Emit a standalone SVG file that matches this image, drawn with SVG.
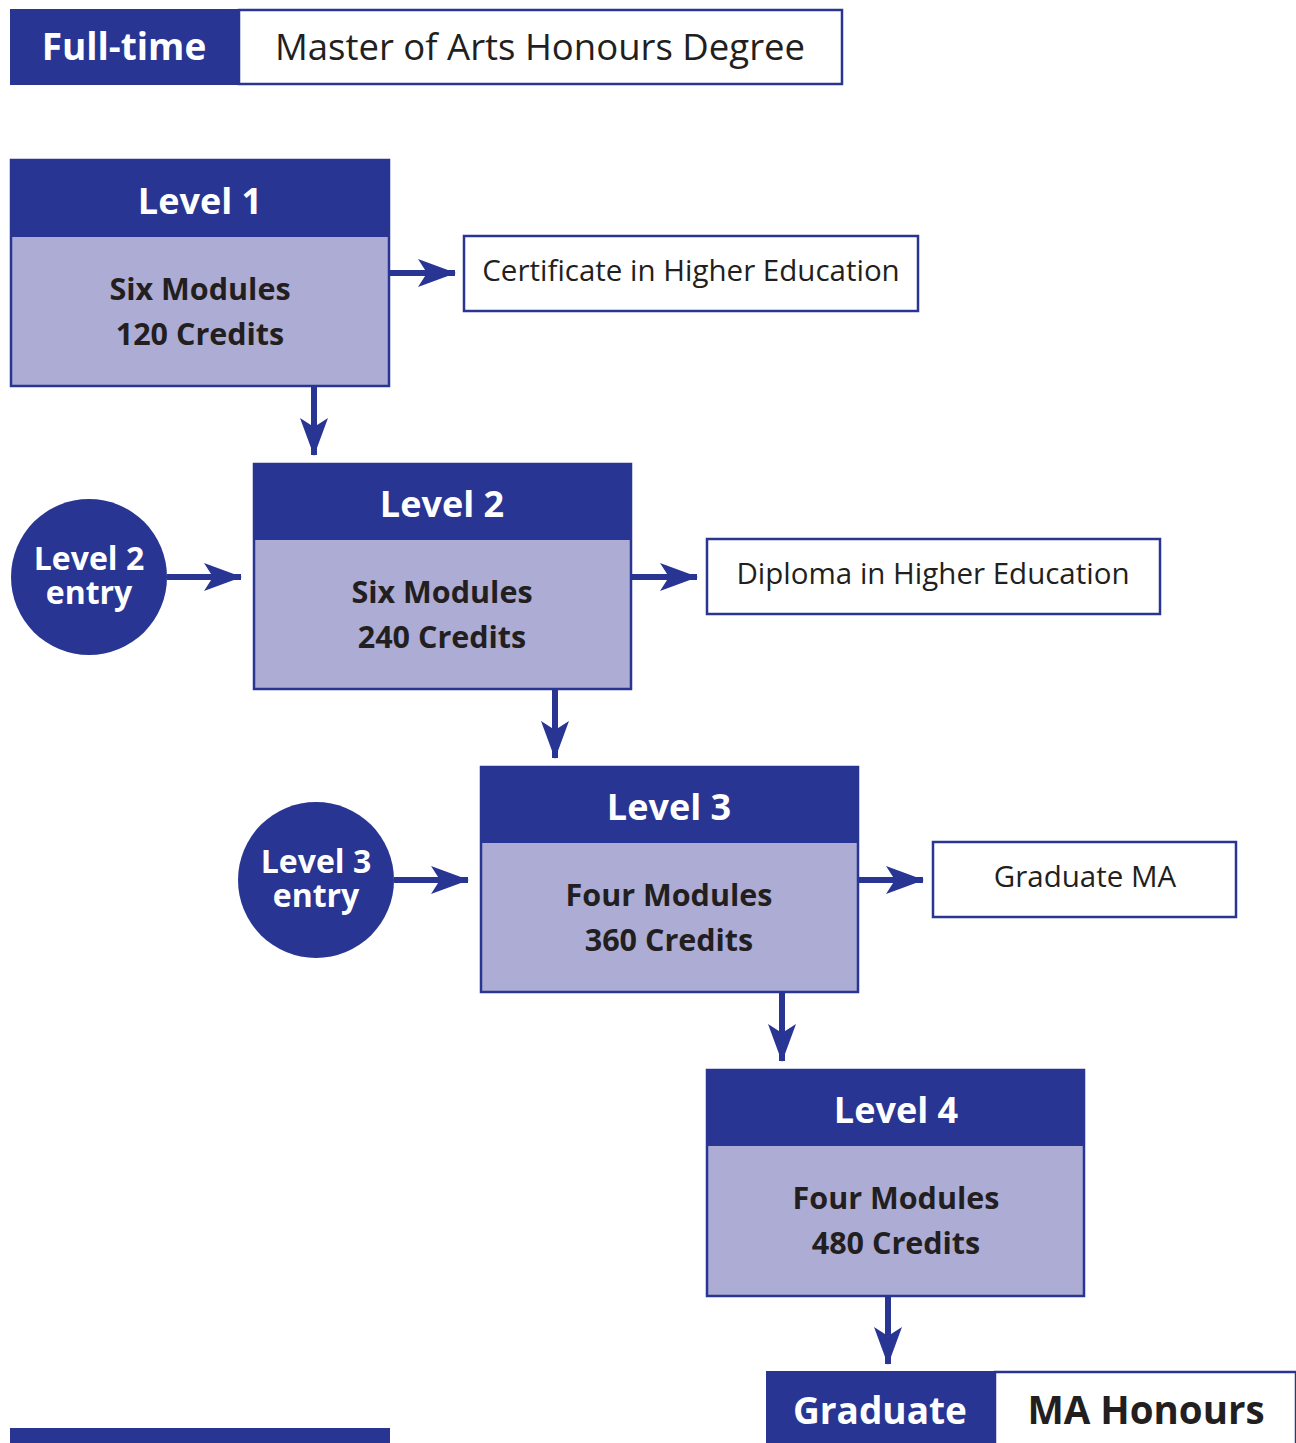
<svg xmlns="http://www.w3.org/2000/svg" width="1296" height="1443" viewBox="0 0 1296 1443">
<defs>
<style>
.dk{fill:#283593}
.lt{fill:#ACACD4;stroke:#283593;stroke-width:2.5}
.wb{fill:#fff;stroke:#283593;stroke-width:2.5}
.t{font-family:"Open Sans","Liberation Sans",sans-serif;text-anchor:middle}
.hw{fill:#fff;font-weight:700;font-size:36px}
.bb{fill:#231f20;font-weight:700;font-size:30.5px}
.rg{fill:#231f20;font-weight:400;font-size:29.5px}
.ce{fill:#fff;font-weight:700;font-size:32px}
.ln{stroke:#283593;stroke-width:6;fill:none}
</style>
<marker id="ah" markerUnits="userSpaceOnUse" viewBox="0 -15 38 30" markerWidth="38" markerHeight="30" refX="37" refY="0" orient="auto">
<path d="M0,-14 L38,0 L0,14 L9,0 Z" fill="#283593"/>
</marker>
</defs>
<g id="header">
<rect class="dk" x="10" y="9" width="229" height="76"/>
<rect class="wb" x="239" y="10" width="603" height="74"/>
<text class="t hw" x="124" y="60" style="font-size:37px">Full-time</text>
<text class="t rg" x="540" y="60" style="font-size:36.5px">Master of Arts Honours Degree</text>
</g>
<g id="level1">
<rect class="lt" x="11" y="160" width="378" height="226"/>
<rect class="dk" x="10" y="159" width="380" height="78"/>
<text class="t hw" x="200" y="214">Level 1</text>
<text class="t bb" x="200" y="300">Six Modules</text>
<text class="t bb" x="200" y="345">120 Credits</text>
</g>
<g id="cert">
<rect class="wb" x="464" y="236" width="454" height="75"/>
<text class="t rg" x="691" y="281">Certificate in Higher Education</text>
</g>
<g id="level2">
<rect class="lt" x="254" y="464" width="377" height="225"/>
<rect class="dk" x="253" y="463" width="379" height="77"/>
<text class="t hw" x="442" y="517">Level 2</text>
<text class="t bb" x="442" y="603">Six Modules</text>
<text class="t bb" x="442" y="648">240 Credits</text>
</g>
<g id="entry2">
<circle class="dk" cx="89" cy="577" r="78"/>
<text class="t ce" x="89" y="570">Level 2</text>
<text class="t ce" x="89" y="604">entry</text>
</g>
<g id="diploma">
<rect class="wb" x="707" y="539" width="453" height="75"/>
<text class="t rg" x="933" y="584">Diploma in Higher Education</text>
</g>
<g id="level3">
<rect class="lt" x="481" y="767" width="377" height="225"/>
<rect class="dk" x="480" y="766" width="379" height="77"/>
<text class="t hw" x="669" y="820">Level 3</text>
<text class="t bb" x="669" y="906">Four Modules</text>
<text class="t bb" x="669" y="951">360 Credits</text>
</g>
<g id="entry3">
<circle class="dk" cx="316" cy="880" r="78"/>
<text class="t ce" x="316" y="873">Level 3</text>
<text class="t ce" x="316" y="907">entry</text>
</g>
<g id="gradma">
<rect class="wb" x="933" y="842" width="303" height="75"/>
<text class="t rg" x="1085" y="887">Graduate MA</text>
</g>
<g id="level4">
<rect class="lt" x="707" y="1070" width="377" height="226"/>
<rect class="dk" x="706" y="1069" width="379" height="77"/>
<text class="t hw" x="896" y="1123">Level 4</text>
<text class="t bb" x="896" y="1209">Four Modules</text>
<text class="t bb" x="896" y="1254">480 Credits</text>
</g>
<g id="graduate">
<rect class="dk" x="766" y="1371" width="229" height="74"/>
<rect class="wb" x="995" y="1372" width="301" height="74"/>
<text class="t hw" x="880" y="1424" style="font-size:37px">Graduate</text>
<text class="t" x="1146" y="1424" style="font-size:38.5px;font-weight:700;fill:#231f20">MA Honours</text>
</g>
<g id="footer">
<rect class="dk" x="10" y="1428" width="380" height="15"/>
</g>
<g id="connectors">
<line class="ln" x1="390" y1="273" x2="455" y2="273" marker-end="url(#ah)"/>
<line class="ln" x1="314" y1="387" x2="314" y2="455" marker-end="url(#ah)"/>
<line class="ln" x1="167" y1="577" x2="241" y2="577" marker-end="url(#ah)"/>
<line class="ln" x1="632" y1="577" x2="697" y2="577" marker-end="url(#ah)"/>
<line class="ln" x1="555" y1="690" x2="555" y2="758" marker-end="url(#ah)"/>
<line class="ln" x1="394" y1="880" x2="468" y2="880" marker-end="url(#ah)"/>
<line class="ln" x1="858" y1="880" x2="923" y2="880" marker-end="url(#ah)"/>
<line class="ln" x1="782" y1="993" x2="782" y2="1061" marker-end="url(#ah)"/>
<line class="ln" x1="888" y1="1297" x2="888" y2="1364" marker-end="url(#ah)"/>
</g>
</svg>
